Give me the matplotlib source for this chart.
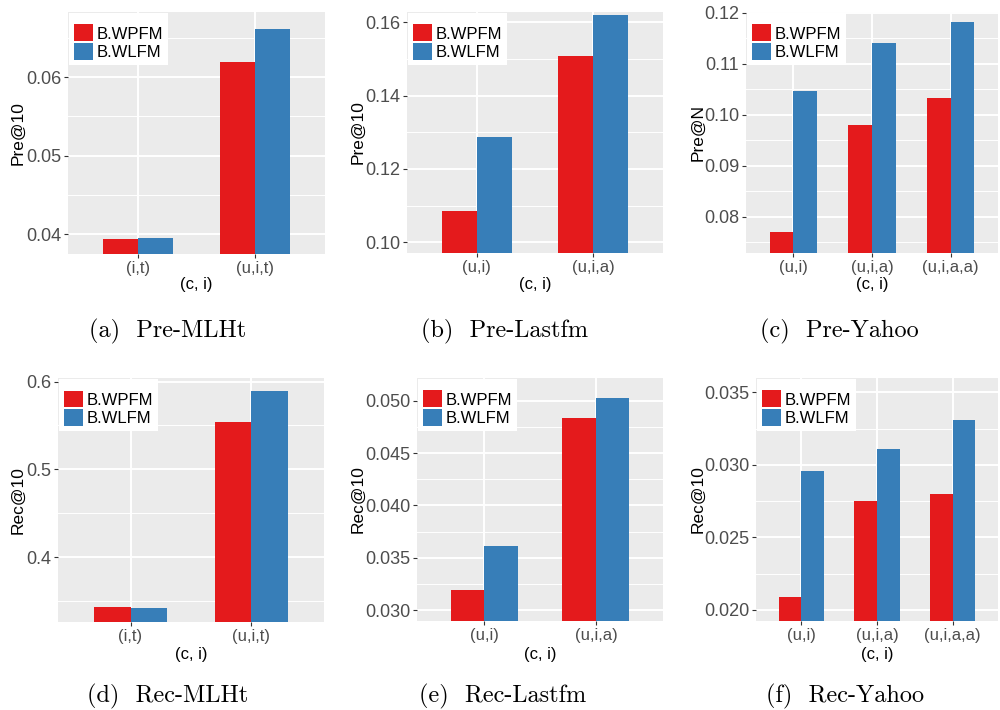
import numpy as np
import matplotlib
matplotlib.use('Agg')
import matplotlib.pyplot as plt
from matplotlib.patches import Patch
from matplotlib.ticker import MultipleLocator, FormatStrFormatter

# categories of context/item combinations per dataset
cats_mlht = ['(i,t)', '(u,i,t)']
cats_lastfm = ['(u,i)', '(u,i,a)']
cats_yahoo = ['(u,i)', '(u,i,a)', '(u,i,a,a)']

# precision @10
pre_mlht_wpfm = [0.0394, 0.0619]
pre_mlht_wlfm = [0.0395, 0.0662]
pre_lastfm_wpfm = [0.1085, 0.1508]
pre_lastfm_wlfm = [0.1287, 0.1620]
pre_yahoo_wpfm = [0.0771, 0.0979, 0.1032]
pre_yahoo_wlfm = [0.1046, 0.1140, 0.1181]

# recall @10
rec_mlht_wpfm = [0.3434, 0.5539]
rec_mlht_wlfm = [0.3423, 0.5894]
rec_lastfm_wpfm = [0.0319, 0.0483]
rec_lastfm_wlfm = [0.0361, 0.0503]
rec_yahoo_wpfm = [0.0209, 0.0275, 0.0280]
rec_yahoo_wlfm = [0.0296, 0.0311, 0.0331]

series_names = ['B.WPFM', 'B.WLFM']
colors = ['#E41A1C', '#377EB8']

W, H = 1000, 710
fig = plt.figure(figsize=(W / 100, H / 100), dpi=100)
plt.rcParams['font.family'] = ['Liberation Sans', 'DejaVu Sans']


def fx(px):
    return px / W


def fy(py):
    return 1 - py / H


# each panel: box in pixels (left, top, right, bottom), ylim, major step, format
panels = [
    dict(box=(68, 12, 325, 254), cats=cats_mlht, a=pre_mlht_wpfm, b=pre_mlht_wlfm,
         ylim=(0.0375, 0.0683), step=0.01, fmt='%.2f', ylabel='Pre@10', ylx=18,
         caption='(a)  Pre-MLHt', cx=168, cy=331),
    dict(box=(407, 12, 663, 253), cats=cats_lastfm, a=pre_lastfm_wpfm, b=pre_lastfm_wlfm,
         ylim=(0.0971, 0.1628), step=0.02, fmt='%.2f', ylabel='Pre@10', ylx=358,
         caption='(b)  Pre-Lastfm', cx=505, cy=331),
    dict(box=(746, 12, 998, 253), cats=cats_yahoo, a=pre_yahoo_wpfm, b=pre_yahoo_wlfm,
         ylim=(0.0729, 0.1201), step=0.01, fmt='%.2f', ylabel='Pre@N', ylx=698,
         caption='(c)  Pre-Yahoo', cx=839, cy=331),
    dict(box=(58, 378, 324, 622), cats=cats_mlht, a=rec_mlht_wpfm, b=rec_mlht_wlfm,
         ylim=(0.326, 0.604), step=0.1, fmt='%.1f', ylabel='Rec@10', ylx=18,
         caption='(d)  Rec-MLHt', cx=168, cy=696),
    dict(box=(417, 378, 663, 621), cats=cats_lastfm, a=rec_lastfm_wpfm, b=rec_lastfm_wlfm,
         ylim=(0.02895, 0.05217), step=0.005, fmt='%.3f', ylabel='Rec@10', ylx=358,
         caption='(e)  Rec-Lastfm', cx=503, cy=696),
    dict(box=(756, 378, 998, 621), cats=cats_yahoo, a=rec_yahoo_wpfm, b=rec_yahoo_wlfm,
         ylim=(0.01924, 0.0360), step=0.005, fmt='%.3f', ylabel='Rec@10', ylx=698,
         caption='(f)  Rec-Yahoo', cx=845, cy=696),
]

bar_w = 0.3
for p in panels:
    l, t, r, b = p['box']
    ax = fig.add_axes([fx(l), fy(b), fx(r - l), (b - t) / H])
    ax.set_facecolor('#EBEBEB')
    for s in ax.spines.values():
        s.set_visible(False)

    x = np.arange(1, len(p['cats']) + 1)
    ax.bar(x - bar_w / 2, p['a'], width=bar_w, color=colors[0], zorder=3)
    ax.bar(x + bar_w / 2, p['b'], width=bar_w, color=colors[1], zorder=3)

    ax.set_xlim(0.4, len(p['cats']) + 0.6)
    ax.set_ylim(*p['ylim'])
    ax.set_xticks(x)
    ax.set_xticklabels(p['cats'])
    ax.yaxis.set_major_locator(MultipleLocator(p['step']))
    ax.yaxis.set_minor_locator(MultipleLocator(p['step'] / 2))
    ax.yaxis.set_major_formatter(FormatStrFormatter(p['fmt']))

    ax.grid(True, which='major', color='white', linewidth=1.4, zorder=0)
    ax.grid(True, which='minor', axis='y', color='white', linewidth=0.7, zorder=0)
    ax.set_axisbelow(True)
    ax.tick_params(axis='both', which='major', length=3, width=0.8, color='#333333',
                   labelcolor='#4D4D4D', pad=2)
    ax.tick_params(axis='y', labelsize=13)
    ax.tick_params(axis='x', labelsize=12)
    ax.tick_params(which='minor', length=0)

    ax.set_xlabel('(c, i)', fontsize=12, color='black')
    ax.xaxis.set_label_coords(fx((l + r) / 2), fy(285 if t < 100 else 655),
                              transform=fig.transFigure)
    ax.xaxis.label.set_va('center')
    ax.set_ylabel(p['ylabel'], fontsize=12.5, color='black')
    ax.yaxis.set_label_coords(fx(p['ylx']), fy((t + b) / 2), transform=fig.transFigure)
    ax.yaxis.label.set_va('center')

    handles = [Patch(facecolor=c, edgecolor='none') for c in colors]
    leg = ax.legend(handles, series_names, loc='upper left', bbox_to_anchor=(0, 1),
                    borderaxespad=0.05, fontsize=12, frameon=True, fancybox=False,
                    edgecolor='white', facecolor='white', framealpha=1,
                    handlelength=1.17, handleheight=1.17, handletextpad=0.2,
                    labelspacing=0.1, borderpad=0.3, title=' ', title_fontsize=4)
    leg.get_frame().set_linewidth(0)
    leg.set_zorder(5)

    fig.text(fx(p['cx']), fy(p['cy']), p['caption'], family='cmr10', fontsize=17.5,
             ha='center', va='center')

fig.savefig('out.png', dpi=100)
